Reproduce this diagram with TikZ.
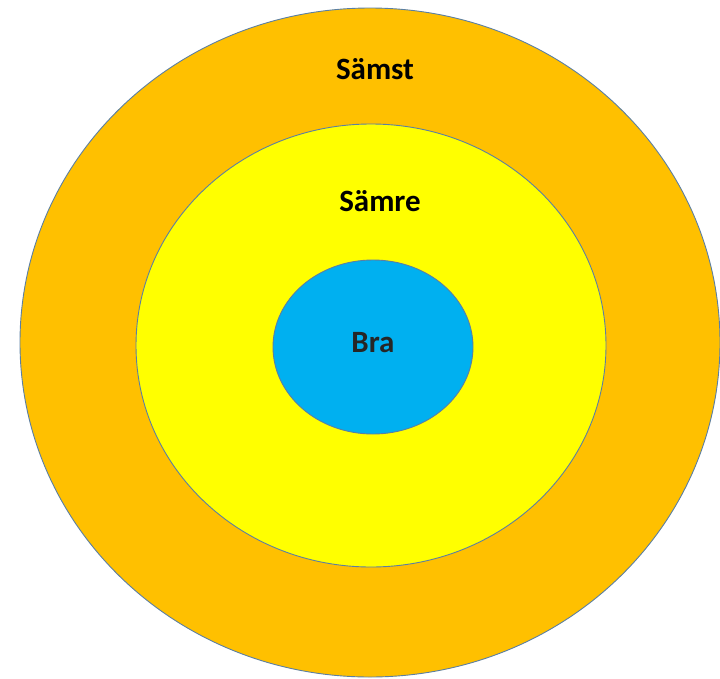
\documentclass[tikz,border=0pt]{standalone}
\usepackage{fontspec}
\setmainfont{Carlito}
\usetikzlibrary{shapes.geometric}
\definecolor{orangeF}{HTML}{FFC000}
\definecolor{yellowF}{HTML}{FFFF00}
\definecolor{blueF}{HTML}{00B0F0}
\definecolor{edgeC}{HTML}{5B7FA3}
\definecolor{darkT}{HTML}{262626}
\tikzset{
  ring/.style={ellipse, draw=edgeC, line width=0.9pt, inner sep=0pt},
  lbl/.style={font=\fontsize{31}{36}\selectfont\bfseries, inner sep=0pt}
}
\begin{document}
\begin{tikzpicture}[x=1pt,y=-1pt]
\useasboundingbox (0,0) rectangle (720,678);
\node[ring, fill=orangeF, minimum width=700pt, minimum height=669pt] (outer) at (370,342.5) {};
\node[ring, fill=yellowF, minimum width=470pt, minimum height=443pt] (middle) at (371,345.5) {};
\node[ring, fill=blueF, minimum width=200pt, minimum height=174pt] (inner) at (373,347) {};
\node[lbl, text=darkT] (bra) at (373,343) {Bra};
\node[lbl, text=black] (samst) at (375,69) {Sämst};
\node[lbl, text=black] (samre) at (380,201) {Sämre};
\end{tikzpicture}
\end{document}
